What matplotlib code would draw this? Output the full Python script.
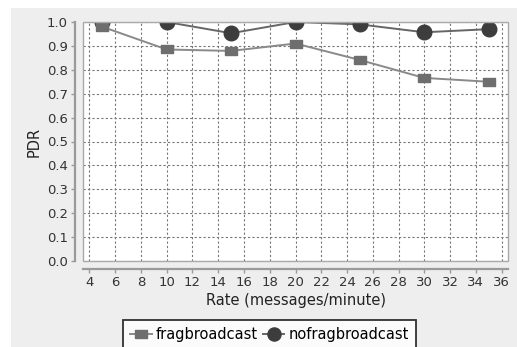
import matplotlib.pyplot as plt
from matplotlib.patches import Rectangle

# PDR versus message rate
rates = [5, 10, 15, 20, 25, 30, 35]
frag_pdr = [0.98, 0.885, 0.879, 0.91, 0.841, 0.766, 0.75]
nofrag_pdr = [1.0, 1.0, 0.953, 1.0, 0.99, 0.957, 0.97]

x_ticks = list(range(4, 37, 2))
y_ticks = [i / 10 for i in range(11)]

panel_grey = "#eeeeee"

fig = plt.figure(figsize=(5.17, 3.47), dpi=100, facecolor="white")

# light grey panel behind the chart
fig.patches.append(Rectangle((11 / 517, 0), 1, (347 - 8) / 347,
                             transform=fig.transFigure, facecolor=panel_grey,
                             edgecolor="none", zorder=-10))

ax = fig.add_axes([83 / 517, (347 - 261) / 347, 425 / 517, 239 / 347])
ax.set_facecolor("white")

# rectangular marker, wider than tall
rect_marker = [(-1.5, -1), (1.5, -1), (1.5, 1), (-1.5, 1), (-1.5, -1)]

ax.plot(rates, nofrag_pdr, color="#666666", lw=1.4, marker="o", ms=10.5,
        mfc="#3d3d3d", mec="#3d3d3d", label="nofragbroadcast", zorder=3)
ax.plot(rates, frag_pdr, color="#8a8a8a", lw=1.4, marker=rect_marker, ms=9,
        mfc="#6e6e6e", mec="#6e6e6e", label="fragbroadcast", zorder=4)

ax.set_xlim(3.5, 36.5)
ax.set_ylim(0, 1.0)
ax.set_xticks(x_ticks)
ax.set_yticks(y_ticks)
ax.set_yticklabels([f"{v:.1f}" for v in y_ticks])

ax.grid(True, color="#777777", linestyle=(0, (2, 2)), linewidth=0.8)
ax.set_axisbelow(True)

# offset axis lines, plot outline drawn separately
for side in ["top", "right"]:
    ax.spines[side].set_visible(False)
for side in ["left", "bottom"]:
    ax.spines[side].set_position(("outward", 6))
    ax.spines[side].set_color("#9a9a9a")
    ax.spines[side].set_linewidth(1.6)
ax.add_patch(Rectangle((0, 0), 1, 1, transform=ax.transAxes, fill=False,
                       edgecolor="#aaaaaa", linewidth=1.0, zorder=5,
                       clip_on=False))

ax.tick_params(axis="both", length=3, width=1, color="#9a9a9a",
               labelsize=9.5, labelcolor="#333333", pad=2)

ax.set_ylabel("PDR", fontsize=10.5, color="#222222", labelpad=4)
ax.set_xlabel("Rate (messages/minute)", fontsize=10.5, color="#222222",
              labelpad=3)

handles, labels = ax.get_legend_handles_labels()
leg = fig.legend(handles[::-1], labels[::-1], loc="upper center",
                 bbox_to_anchor=(269.5 / 517, (347 - 320) / 347), ncol=2,
                 fontsize=10.5, frameon=True, fancybox=False,
                 handlelength=1.5, handletextpad=0.3, columnspacing=0.3,
                 borderpad=0.5, borderaxespad=0, markerscale=0.9)
leg.get_frame().set_edgecolor("black")
leg.get_frame().set_linewidth(1.3)
leg.get_frame().set_facecolor("white")

fig.savefig("out.png", dpi=100)
